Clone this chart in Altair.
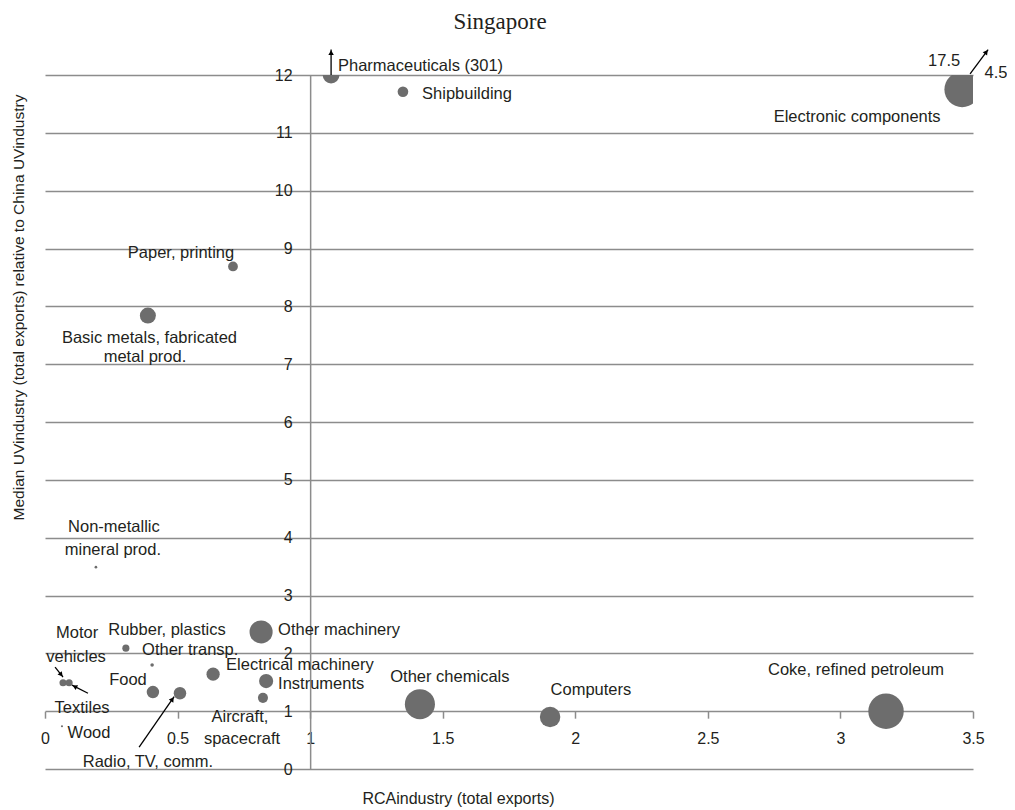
import math
import altair as alt
import pandas as pd

# ---------------- data ----------------
industries = [
    "Pharmaceuticals", "Shipbuilding", "Electronic components", "Paper, printing",
    "Basic metals, fabricated metal prod.", "Non-metallic mineral prod.", "Other machinery",
    "Rubber, plastics", "Other transp.", "Motor vehicles", "Textiles", "Wood", "Food",
    "Radio, TV, comm.", "Electrical machinery", "Instruments", "Aircraft, spacecraft",
    "Other chemicals", "Computers", "Coke, refined petroleum",
]
rca = [1.079, 1.350, 3.459, 0.709, 0.388, 0.192, 0.815, 0.305, 0.404, 0.068, 0.091, 0.064,
       0.407, 0.509, 0.634, 0.834, 0.822, 1.414, 1.905, 3.172]
uv_ratio = [12.0, 11.71, 11.75, 8.69, 7.84, 3.49, 2.37, 2.09, 1.80, 1.49, 1.49, 0.74,
            1.33, 1.31, 1.64, 1.52, 1.23, 1.12, 0.90, 1.00]
export_share = [5.6, 2.25, 25.0, 1.9, 5.1, 0.14, 10.6, 1.0, 0.25, 1.0, 1.0, 0.09,
                3.1, 3.1, 3.5, 4.0, 2.0, 18.0, 8.3, 25.0]

x_ticks = [0, 0.5, 1, 1.5, 2, 2.5, 3, 3.5]
y_ticks = list(range(0, 13))

# annotation labels (anchor in data units)
label_text = [
    "Pharmaceuticals (301)", "Shipbuilding", "Other transp.", "Electrical machinery",
    "Instruments", "Other machinery",
    "Electronic components", "17.5", "4.5", "Paper, printing", "Basic metals, fabricated",
    "metal prod.", "Non-metallic", "mineral prod.", "Motor", "vehicles", "Textiles", "Wood",
    "Rubber, plastics", "Food", "Radio, TV, comm.", "Aircraft,", "spacecraft",
    "Other chemicals", "Computers", "Coke, refined petroleum",
]
label_x = [1.105, 1.422, 0.366, 0.683, 0.879, 0.879,
           3.063, 3.391, 3.587, 0.513, 0.394, 0.377, 0.260, 0.256, 0.121, 0.117, 0.140,
           0.166, 0.460, 0.313, 0.388, 0.735, 0.743, 1.527, 2.059, 3.059]
label_y = [12.16, 11.68, 2.06, 1.80, 1.47, 2.40,
           11.28, 12.25, 12.04, 8.93, 7.46, 7.13, 4.19, 3.79, 2.35, 1.94, 1.06,
           0.62, 2.40, 1.54, 0.12, 0.90, 0.52, 1.59, 1.37, 1.71]
label_align = ["left"] * 6 + ["center"] * 20

# arrows (start -> end, data units)
arrow_x = [1.079, 3.489, 0.038, 0.162, 0.355]
arrow_y = [12.0, 12.02, 1.76, 1.31, 0.38]
arrow_x2 = [1.079, 3.557, 0.068, 0.102, 0.487]
arrow_y2 = [12.44, 12.44, 1.59, 1.45, 1.25]

# ---------------- geometry / style ----------------
W, H = 928, 694
X_MAX, Y_MAX = 3.5, 12
PX_X = W / X_MAX
PX_Y = H / Y_MAX
FONT = "Liberation Sans"
TXT = "#231f20"
GRID = "#8c8c8c"
BUBBLE = "#6d6d6d"

pts = pd.DataFrame({"industry": industries, "rca": rca, "uv": uv_ratio, "share": export_share})
labels = pd.DataFrame({"text": label_text, "lx": label_x, "ly": label_y, "align": label_align})

arr = pd.DataFrame({"ax": arrow_x, "ay": arrow_y, "ax2": arrow_x2, "ay2": arrow_y2})
dxp = (arr["ax2"] - arr["ax"]) * PX_X
dyp = -(arr["ay2"] - arr["ay"]) * PX_Y
arr["ang"] = [(math.degrees(math.atan2(a, -b)) + 360) % 360 for a, b in zip(dxp, dyp)]
lens = (dxp ** 2 + dyp ** 2) ** 0.5
arr["hx"] = arr["ax2"] - (dxp / lens) * 3 / PX_X
arr["hy"] = arr["ay2"] + (dyp / lens) * 3 / PX_Y

xs = alt.Scale(domain=[0, X_MAX], nice=False, zero=False)
ys = alt.Scale(domain=[0, Y_MAX], nice=False, zero=False)

x_axis = alt.Axis(
    values=x_ticks, format="~g", offset=-PX_Y * 1, domain=False, grid=False,
    ticks=True, tickSize=7, tickColor=GRID, tickWidth=1.5,
    labelFont=FONT, labelFontSize=16, labelColor=TXT, labelPadding=12,
    labelFlush=False, labelOverlap=False,
    title="RCAindustry (total exports)", titleFont=FONT, titleFontSize=16,
    titleFontWeight="normal", titleColor=TXT, titleX=413, titleY=87,
    titleAlign="center", titleBaseline="middle",
)
y_axis = alt.Axis(
    values=y_ticks, format="d", offset=-PX_X * 1, domain=True, domainColor=GRID,
    domainWidth=1.5, grid=True, gridColor=GRID, gridWidth=1.5, ticks=False,
    labelFont=FONT, labelFontSize=16, labelColor=TXT, labelPadding=18,
    labelOverlap=False, labelFlush=False,
    title="Median UVindustry (total exports) relative to China UVindustry",
    titleFont=FONT, titleFontSize=15.5, titleFontWeight="normal", titleColor=TXT,
    titleX=-292, titleY=232, titleAngle=270, titleAlign="center", titleBaseline="middle",
)


def X(field):
    return alt.X(field, type="quantitative", scale=xs, axis=x_axis)


def Y(field):
    return alt.Y(field, type="quantitative", scale=ys, axis=y_axis)


bubbles = alt.Chart(pts).mark_circle(color=BUBBLE, opacity=1, clip=True).encode(
    x=X("rca"), y=Y("uv"),
    size=alt.Size("share:Q", scale=alt.Scale(domain=[0, 25], range=[0, math.pi * 400]), legend=None),
    tooltip=["industry", "rca", "uv"],
)

text_left = alt.Chart(labels).transform_filter(alt.datum.align == "left").mark_text(
    align="left", baseline="middle", font=FONT, fontSize=16.5, color=TXT
).encode(x=X("lx"), y=Y("ly"), text="text:N")

text_center = alt.Chart(labels).transform_filter(alt.datum.align == "center").mark_text(
    align="center", baseline="middle", font=FONT, fontSize=16.5, color=TXT
).encode(x=X("lx"), y=Y("ly"), text="text:N")

arrow_lines = alt.Chart(arr).mark_rule(color="black", strokeWidth=1.3).encode(
    x=X("ax"), y=Y("ay"), x2="ax2", y2="ay2"
)
arrow_heads = alt.Chart(arr).mark_point(
    shape="triangle-up", filled=True, size=30, color="black", opacity=1
).encode(x=X("hx"), y=Y("hy"), angle=alt.Angle("ang:Q", scale=None))

title = alt.Chart(pd.DataFrame({"t": ["Singapore"]})).mark_text(
    align="center", baseline="middle", font="Liberation Serif", fontSize=23, color=TXT
).encode(text="t:N", x=alt.value(455), y=alt.value(-53))

chart = alt.layer(bubbles, arrow_lines, arrow_heads, text_left, text_center, title).properties(
    width=W, height=H,
    autosize=alt.AutoSizeParams(type="none"),
    padding={"left": 37, "top": 67, "right": 34, "bottom": 40},
    background="white",
).configure_view(stroke=None)

chart.save("out.html", embed_options={"renderer": "svg", "actions": False})
